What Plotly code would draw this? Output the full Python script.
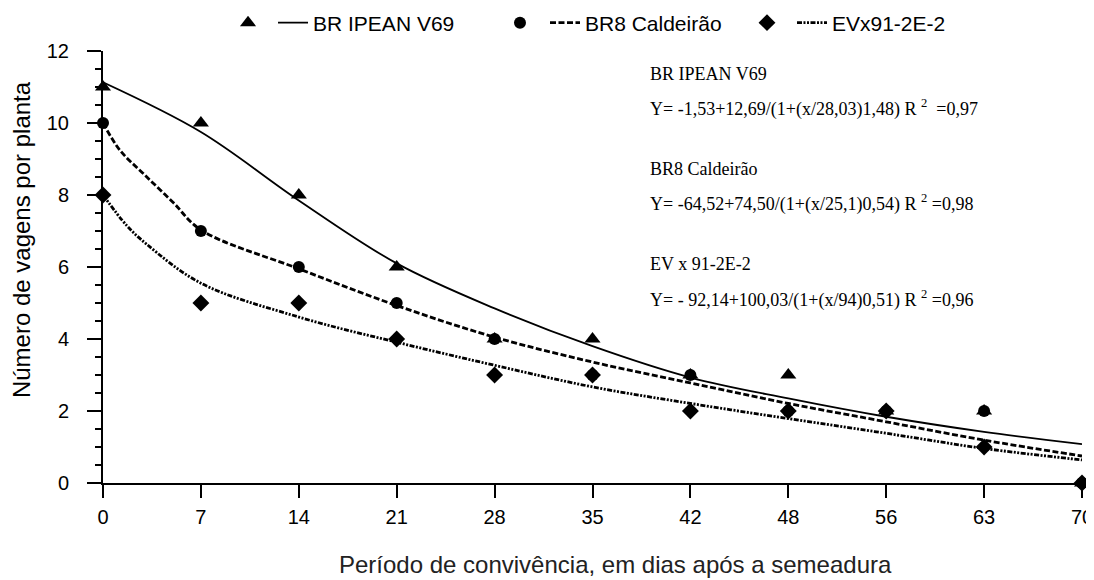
import plotly.graph_objects as go

# ---- data ----
days_pos = [0, 7, 14, 21, 28, 35, 42, 49, 56, 63, 70]
day_labels = ["0", "7", "14", "21", "28", "35", "42", "48", "56", "63", "70"]

ipean_obs = [11, 10, 8, 6, 4, 4, 3, 3, 2, 2, 0]
caldeirao_obs = [10, 7, 6, 5, 4, 3, 3, 2, 2, 2, 0]
evx_obs = [8, 5, 5, 4, 3, 3, 2, 2, 2, 1, 0]

# fitted curves, values
ipean_fit_x = [0, 7, 14, 21, 28, 35, 42, 49, 56, 63, 70]
ipean_fit_y = [11.13, 9.75, 7.85, 6.10, 4.85, 3.80, 2.93, 2.35, 1.84, 1.42, 1.08]

caldeirao_fit_x = [0, 1.2, 3, 5, 7, 14, 21, 28, 35, 42, 49, 56, 63, 70]
caldeirao_fit_y = [10.0, 9.25, 8.55, 7.80, 7.03, 5.95, 4.93, 4.05, 3.36, 2.78, 2.21, 1.70, 1.19, 0.75]

evx_fit_x = [0, 1.7, 3.1, 7, 14, 21, 28, 35, 42, 49, 56, 63, 70]
evx_fit_y = [8.0, 7.15, 6.64, 5.55, 4.61, 3.91, 3.27, 2.67, 2.21, 1.79, 1.38, 0.96, 0.64]

series_names = ["BR IPEAN V69", "BR8 Caldeirão", "EVx91-2E-2"]
y_ticks = [0, 2, 4, 6, 8, 10, 12]

eq_texts = [
    "BR IPEAN V69",
    "Y= -1,53+12,69/(1+(x/28,03)1,48) R <sup>2</sup>  =0,97",
    "BR8 Caldeirão",
    "Y= -64,52+74,50/(1+(x/25,1)0,54) R <sup>2</sup> =0,98",
    "EV x 91-2E-2",
    "Y= - 92,14+100,03/(1+(x/94)0,51) R <sup>2</sup> =0,96",
]
eq_y = [11.36, 10.42, 8.73, 7.78, 6.09, 5.12]

# ---- styles ----
symbols = ["triangle-up", "circle", "diamond"]
msizes = [14, 12, 13]
dashes = ["solid", "6px,2.5px", "5px,1.5px,2px,1.5px,2px,1.5px"]
lwidths = [1.8, 2.8, 2.8]
legend_ids = ["legend", "legend2", "legend3"]
legend_x = [0.1277, 0.4055, 0.6578]

fig = go.Figure()

fits = [(ipean_fit_x, ipean_fit_y), (caldeirao_fit_x, caldeirao_fit_y), (evx_fit_x, evx_fit_y)]
obs = [ipean_obs, caldeirao_obs, evx_obs]

for i in range(3):
    fx, fy = fits[i]
    fig.add_trace(go.Scatter(
        x=fx, y=fy, mode="lines",
        line=dict(color="black", width=lwidths[i], dash=dashes[i], shape="spline", smoothing=1.0),
        showlegend=False, hoverinfo="skip"))

for i in range(3):
    fig.add_trace(go.Scatter(
        x=days_pos, y=obs[i], mode="markers",
        marker=dict(symbol=symbols[i], size=msizes[i], color="black"),
        showlegend=False, cliponaxis=False))

# legend entries: marker key, then line key with the name
for i in range(3):
    fig.add_trace(go.Scatter(
        x=[None], y=[None], mode="markers",
        marker=dict(symbol=symbols[i], size=msizes[i], color="black"),
        name="", showlegend=True, legend=legend_ids[i]))
    fig.add_trace(go.Scatter(
        x=[None], y=[None], mode="lines",
        line=dict(color="black", width=lwidths[i], dash=dashes[i]),
        name=series_names[i], showlegend=True, legend=legend_ids[i]))

for t, yv in zip(eq_texts, eq_y):
    fig.add_annotation(
        x=39.0, y=yv, xref="x", yref="y", text=t, showarrow=False,
        xanchor="left", yanchor="middle",
        font=dict(family="Liberation Serif, Times New Roman, serif", size=18, color="black"))

fig.add_annotation(
    x=-0.083, y=0.564, xref="paper", yref="paper",
    text="Número de vagens por planta", textangle=-90, showarrow=False,
    xanchor="center", yanchor="middle",
    font=dict(family="Liberation Sans, Arial, sans-serif", size=24, color="black"))

fig.add_annotation(
    x=0.523, y=-0.1898, xref="paper", yref="paper",
    text="Período de convivência, em dias após a semeadura", showarrow=False,
    xanchor="center", yanchor="middle",
    font=dict(family="Liberation Sans, Arial, sans-serif", size=24, color="#222"))

leg_common = dict(orientation="h", y=1.0648, xanchor="left", yanchor="middle",
                  font=dict(size=21, color="black"), itemwidth=30,
                  bgcolor="rgba(0,0,0,0)", borderwidth=0)

# the page adds an 8px body margin, so the figure is 8px smaller and shifted
fig.update_layout(
    width=1086, height=572,
    margin=dict(l=95, r=12, t=43, b=97, autoexpand=False),
    paper_bgcolor="white", plot_bgcolor="white",
    font=dict(family="Liberation Sans, Arial, sans-serif", size=20, color="black"),
    legend=dict(x=legend_x[0], **leg_common),
    legend2=dict(x=legend_x[1], **leg_common),
    legend3=dict(x=legend_x[2], **leg_common),
    xaxis=dict(
        range=[0, 70], tickmode="array", tickvals=days_pos, ticktext=day_labels,
        showline=True, linecolor="black", linewidth=2, mirror=False,
        ticks="outside", ticklen=13, tickwidth=2, tickcolor="black",
        showgrid=False, zeroline=False, ticklabelstandoff=2,
    ),
    yaxis=dict(
        range=[0, 12], tickmode="array", tickvals=y_ticks,
        showline=True, linecolor="black", linewidth=2,
        ticks="outside", ticklen=14, tickwidth=2, tickcolor="black",
        minor=dict(dtick=0.5, ticks="outside", ticklen=6, tickwidth=2, tickcolor="black"),
        showgrid=False, zeroline=False, ticklabelstandoff=14,
    ),
)

fig.write_html("out.html")
